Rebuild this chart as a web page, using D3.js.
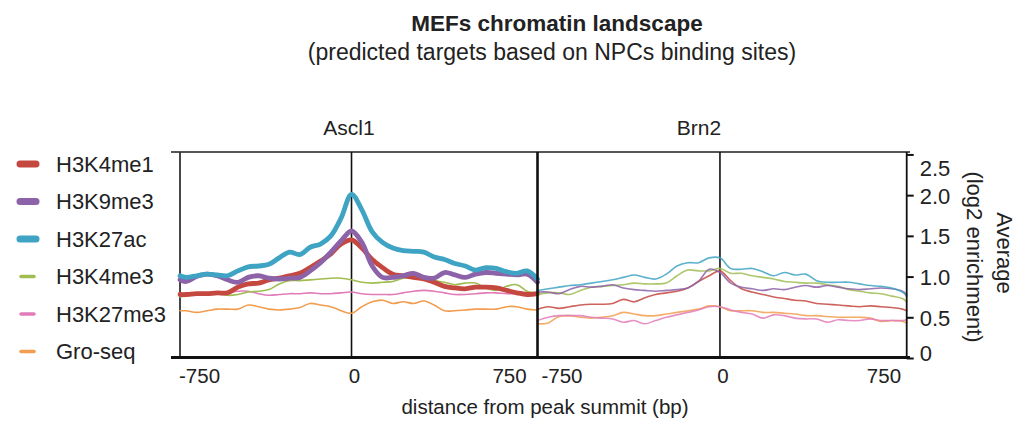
<!DOCTYPE html>
<html>
<head>
<meta charset="utf-8">
<script src="https://cdn.jsdelivr.net/npm/d3@7"></script>
<style>
  body { margin: 0; background: #fff; }
  svg text { font-family: "Liberation Sans", Arial, sans-serif; fill: #222; }
</style>
</head>
<body>
<svg id="chart"></svg>
<script>
// series names and colours
const marks = ["H3K4me1", "H3K9me3", "H3K27ac", "H3K4me3", "H3K27me3", "Gro-seq"];
const markColors = ["#c4483f", "#8c62a8", "#3fa3c3", "#a0bd52", "#e27cb9", "#f29d4f"];
const thickMarks = ["H3K4me1", "H3K9me3", "H3K27ac"];

// Ascl1 panel (bp positions)
const asclPos = [-830, -800, -750, -700, -650, -600, -550, -500, -450, -400, -350, -300, -250, -200, -150, -100, -50, 0,
  50, 100, 150, 200, 250, 300, 350, 400, 450, 500, 550, 600, 650, 700, 750, 800, 850, 900];
const asclH3K4me1 = [0.78, 0.78, 0.79, 0.79, 0.80, 0.80, 0.87, 0.91, 0.92, 0.96, 0.98, 1.01, 1.04, 1.11, 1.19, 1.28, 1.40, 1.45,
  1.35, 1.21, 1.11, 1.03, 1.01, 0.99, 0.97, 0.93, 0.88, 0.86, 0.85, 0.87, 0.87, 0.86, 0.83, 0.80, 0.78, 0.79];
const asclH3K9me3 = [0.96, 0.94, 1.00, 1.03, 1.01, 0.96, 0.93, 0.99, 1.01, 0.98, 0.97, 0.98, 0.99, 1.07, 1.17, 1.30, 1.44, 1.56,
  1.42, 1.13, 0.99, 0.99, 1.01, 1.04, 0.99, 0.98, 1.05, 1.02, 0.99, 1.03, 1.05, 1.04, 1.03, 1.02, 1.03, 0.93];
const asclH3K27ac = [1.01, 0.99, 1.01, 1.03, 1.02, 1.01, 1.07, 1.12, 1.13, 1.15, 1.23, 1.30, 1.27, 1.36, 1.40, 1.50, 1.72, 2.01,
  1.82, 1.55, 1.42, 1.35, 1.32, 1.31, 1.30, 1.24, 1.21, 1.16, 1.13, 1.08, 1.11, 1.10, 1.06, 1.04, 1.07, 0.97];
const asclH3K4me3 = [0.75, 0.76, 0.78, 0.79, 0.79, 0.77, 0.78, 0.81, 0.82, 0.84, 0.91, 0.95, 0.95, 0.96, 0.97, 0.98, 0.98, 0.96,
  0.93, 0.92, 0.93, 0.94, 0.98, 1.00, 0.98, 0.95, 0.93, 0.90, 0.92, 0.92, 0.86, 0.83, 0.88, 0.90, 0.82, 0.79];
const asclH3K27me3 = [0.77, 0.77, 0.78, 0.78, 0.79, 0.80, 0.82, 0.82, 0.79, 0.77, 0.78, 0.79, 0.79, 0.80, 0.79, 0.79, 0.80, 0.81,
  0.79, 0.78, 0.78, 0.78, 0.80, 0.82, 0.83, 0.82, 0.80, 0.78, 0.78, 0.79, 0.80, 0.80, 0.79, 0.79, 0.80, 0.80];
const asclGroSeq = [0.58, 0.58, 0.56, 0.58, 0.60, 0.60, 0.60, 0.65, 0.63, 0.60, 0.59, 0.60, 0.62, 0.67, 0.65, 0.63, 0.58, 0.55,
  0.63, 0.69, 0.71, 0.67, 0.69, 0.67, 0.70, 0.65, 0.58, 0.58, 0.59, 0.60, 0.60, 0.60, 0.63, 0.63, 0.60, 0.59];

// Brn2 panel (bp positions)
const brnPos = [-850, -800, -750, -700, -650, -600, -550, -500, -450, -400, -350, -300, -250, -200, -150, -100, -50, 0,
  50, 100, 150, 200, 250, 300, 350, 400, 450, 500, 550, 600, 650, 700, 750, 800, 850, 870];
const brnH3K4me1 = [0.60, 0.63, 0.61, 0.63, 0.65, 0.66, 0.66, 0.67, 0.72, 0.69, 0.74, 0.78, 0.80, 0.82, 0.86, 0.94, 1.01, 1.07,
  0.95, 0.85, 0.81, 0.78, 0.75, 0.73, 0.71, 0.70, 0.67, 0.66, 0.65, 0.64, 0.63, 0.64, 0.63, 0.62, 0.60, 0.58];
const brnH3K9me3 = [0.81, 0.81, 0.79, 0.84, 0.88, 0.87, 0.88, 0.90, 0.86, 0.84, 0.83, 0.82, 0.83, 0.84, 0.86, 0.94, 1.09, 1.05,
  0.92, 0.87, 0.85, 0.83, 0.85, 0.84, 0.87, 0.89, 0.87, 0.89, 0.87, 0.85, 0.84, 0.85, 0.86, 0.85, 0.82, 0.78];
const brnH3K27ac = [0.83, 0.85, 0.87, 0.89, 0.90, 0.92, 0.94, 0.96, 0.99, 1.02, 0.99, 0.97, 1.03, 1.13, 1.17, 1.17, 1.23, 1.23,
  1.10, 1.09, 1.10, 1.06, 1.01, 1.05, 1.02, 1.03, 0.95, 0.93, 0.93, 0.93, 0.91, 0.89, 0.88, 0.86, 0.81, 0.76];
const brnH3K4me3 = [0.78, 0.80, 0.80, 0.78, 0.83, 0.87, 0.88, 0.89, 0.90, 0.92, 0.91, 0.91, 0.92, 1.01, 1.08, 1.07, 1.07, 1.10,
  1.04, 1.04, 1.01, 0.99, 0.97, 0.94, 0.93, 0.92, 0.92, 0.90, 0.88, 0.84, 0.82, 0.80, 0.79, 0.76, 0.73, 0.69];
const brnH3K27me3 = [0.46, 0.50, 0.52, 0.52, 0.52, 0.50, 0.49, 0.48, 0.44, 0.46, 0.42, 0.46, 0.50, 0.53, 0.56, 0.59, 0.63, 0.63,
  0.59, 0.56, 0.54, 0.49, 0.53, 0.52, 0.49, 0.48, 0.48, 0.44, 0.47, 0.46, 0.46, 0.48, 0.46, 0.46, 0.46, 0.47];
const brnGroSeq = [0.42, 0.43, 0.51, 0.52, 0.50, 0.49, 0.50, 0.52, 0.56, 0.54, 0.52, 0.52, 0.54, 0.56, 0.58, 0.60, 0.64, 0.63,
  0.58, 0.58, 0.58, 0.56, 0.56, 0.55, 0.54, 0.52, 0.52, 0.51, 0.50, 0.50, 0.50, 0.49, 0.45, 0.46, 0.45, 0.43];

// axis ticks
const xTicks = [-750, 0, 750];
const yTicks = [0, 0.5, 1.0, 1.5, 2.0, 2.5];
const yTickLabels = ["0", "0.5", "1.0", "1.5", "2.0", "2.5"];

const width = 1016, height = 425;
const svg = d3.select("#chart").attr("width", width).attr("height", height);

// scales
const y = d3.scaleLinear().domain([0, 2.53]).range([358, 152]);
const xAscl = d3.scaleLinear().domain([-830, 900]).range([180, 537.5]);
const xBrn = d3.scaleLinear().domain([-850, 870]).range([537.5, 906.7]);

const panels = [
  { name: "Ascl1", x: xAscl, pos: asclPos, labelX: 349,
    data: [asclH3K4me1, asclH3K9me3, asclH3K27ac, asclH3K4me3, asclH3K27me3, asclGroSeq], thick: true },
  { name: "Brn2", x: xBrn, pos: brnPos, labelX: 699,
    data: [brnH3K4me1, brnH3K9me3, brnH3K27ac, brnH3K4me3, brnH3K27me3, brnGroSeq], thick: false }
];

// titles
svg.append("text").attr("x", 557).attr("y", 31).attr("text-anchor", "middle")
  .attr("font-size", "22.5px").attr("font-weight", "bold").text("MEFs chromatin landscape");
svg.append("text").attr("x", 552).attr("y", 60).attr("text-anchor", "middle")
  .attr("font-size", "23px").text("(predicted targets based on NPCs binding sites)");

// frame
svg.append("line").attr("x1", 171).attr("x2", 910).attr("y1", 152).attr("y2", 152)
  .attr("stroke", "#555").attr("stroke-width", 1.8);
svg.append("line").attr("x1", 180).attr("x2", 180).attr("y1", 152).attr("y2", 358)
  .attr("stroke", "#333").attr("stroke-width", 1.8);

// draw order: thin first, thick on top
const order = [5, 4, 3, 0, 1, 2];

panels.forEach(p => {
  svg.append("text").attr("x", p.labelX).attr("y", 135).attr("text-anchor", "middle")
    .attr("font-size", "21px").text(p.name);

  // zero line
  svg.append("line").attr("x1", p.x(0)).attr("x2", p.x(0)).attr("y1", 152).attr("y2", 358)
    .attr("stroke", "#111").attr("stroke-width", 1.6);

  const line = d3.line()
    .x((d, i) => p.x(p.pos[i]))
    .y(d => y(d))
    .curve(d3.curveCatmullRom.alpha(0.5));

  const g = svg.append("g");
  order.forEach(k => {
    const isThick = p.thick && thickMarks.includes(marks[k]);
    g.append("path")
      .attr("d", line(p.data[k]))
      .attr("fill", "none")
      .attr("stroke", markColors[k])
      .attr("stroke-width", isThick ? 4.8 : 1.6)
      .attr("stroke-linejoin", "round")
      .attr("stroke-linecap", "round")
      .attr("opacity", p.thick ? 1 : 0.85);
  });

  // x tick labels
  svg.append("g").selectAll("text")
    .data(xTicks)
    .join("text")
    .attr("x", d => p.x(d) + 3)
    .attr("y", 383)
    .attr("text-anchor", "middle")
    .attr("font-size", "20.5px")
    .text(d => d);
});

// panel divider and bottom axis
svg.append("line").attr("x1", 537.5).attr("x2", 537.5).attr("y1", 152).attr("y2", 358)
  .attr("stroke", "#111").attr("stroke-width", 2.6);
svg.append("line").attr("x1", 171).attr("x2", 910).attr("y1", 357.5).attr("y2", 357.5)
  .attr("stroke", "#111").attr("stroke-width", 3);

// right y axis
const yAxis = d3.axisRight(y).tickValues(yTicks).tickSize(7).tickPadding(6)
  .tickFormat((d, i) => yTickLabels[i]);
const yg = svg.append("g").attr("transform", "translate(906.7,0)").call(yAxis);
yg.select(".domain").attr("stroke", "#111").attr("stroke-width", 1.8).attr("d", "M0,152V358");
yg.selectAll(".tick line").attr("stroke", "#111").attr("stroke-width", 2);
yg.selectAll(".tick text")
  .attr("font-size", "22px")
  .attr("font-family", "'Liberation Sans', Arial, sans-serif")
  .attr("fill", "#222")
  .attr("dy", d => d === 2.5 ? "0.95em" : d === 0 ? "0.1em" : "0.36em");

// y axis title
svg.append("text").attr("transform", "translate(997,253) rotate(90)").attr("text-anchor", "middle")
  .attr("font-size", "22px").text("Average");
svg.append("text").attr("transform", "translate(967,257) rotate(90)").attr("text-anchor", "middle")
  .attr("font-size", "22px").text("(log2 enrichment)");

// x axis title
svg.append("text").attr("x", 545).attr("y", 414).attr("text-anchor", "middle")
  .attr("font-size", "20.5px").text("distance from peak summit (bp)");

// legend
const legend = svg.append("g").selectAll("g")
  .data(marks)
  .join("g")
  .attr("transform", (d, i) => `translate(0,${164 + i * 37.5})`);

legend.append("line")
  .attr("x1", d => thickMarks.includes(d) ? 20 : 21)
  .attr("x2", d => thickMarks.includes(d) ? 36 : 34)
  .attr("stroke", (d, i) => markColors[i])
  .attr("stroke-width", d => thickMarks.includes(d) ? 7 : 3.5)
  .attr("stroke-linecap", "round");

legend.append("text")
  .attr("x", 56)
  .attr("y", 7.5)
  .attr("font-size", "22px")
  .text(d => d);
</script>
</body>
</html>
